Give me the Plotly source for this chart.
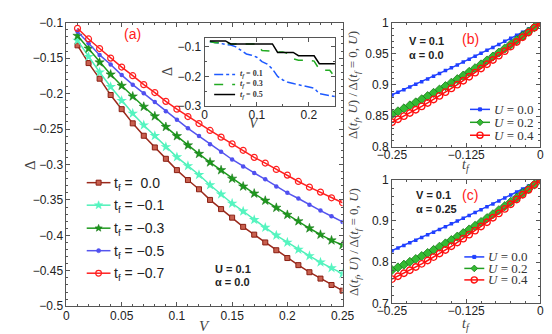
import math
import plotly.graph_objects as go

# ---------------- data ----------------
V = [0.01, 0.02, 0.03, 0.04, 0.05, 0.06, 0.07, 0.08, 0.09, 0.10, 0.11, 0.12, 0.13,
     0.14, 0.15, 0.16, 0.17, 0.18, 0.19, 0.20, 0.21, 0.22, 0.23, 0.24, 0.25]

delta_tf_0p0 = [-0.132, -0.157, -0.179, -0.202, -0.222, -0.242, -0.2595, -0.276, -0.292, -0.308,
                -0.322, -0.335, -0.350, -0.363, -0.375, -0.388, -0.399, -0.410, -0.421, -0.432,
                -0.442, -0.452, -0.461, -0.470, -0.478]
delta_tf_m0p1 = [-0.125, -0.148, -0.170, -0.1905, -0.210, -0.228, -0.2446, -0.2595, -0.2753, -0.2896,
                 -0.302, -0.3145, -0.329, -0.342, -0.355, -0.366, -0.378, -0.389, -0.400, -0.410,
                 -0.420, -0.429, -0.438, -0.446, -0.454]
delta_tf_m0p3 = [-0.1185, -0.1365, -0.156, -0.173, -0.189, -0.204, -0.2185, -0.232, -0.247, -0.260,
                 -0.273, -0.285, -0.297, -0.308, -0.320, -0.331, -0.341, -0.351, -0.361, -0.371,
                 -0.380, -0.390, -0.399, -0.407, -0.4135]
delta_tf_m0p5 = [-0.1126, -0.129, -0.1455, -0.159, -0.174, -0.1874, -0.1996, -0.212, -0.225, -0.237,
                 -0.249, -0.260, -0.2716, -0.282, -0.293, -0.303, -0.312, -0.321, -0.331, -0.340,
                 -0.348, -0.357, -0.365, -0.373, -0.381]
delta_tf_m0p7 = [-0.108, -0.123, -0.1365, -0.150, -0.1626, -0.1748, -0.1874, -0.1986, -0.211, -0.222,
                 -0.2324, -0.2423, -0.252, -0.2615, -0.271, -0.280, -0.290, -0.298, -0.307, -0.315,
                 -0.324, -0.332, -0.339, -0.347, -0.354]

# inset (positive t_f)
inset_tf_0p1 = [-0.083, -0.085, -0.088, -0.092, -0.094, -0.100, -0.112, -0.124, -0.128, -0.135,
                -0.150, -0.158, -0.175, -0.200, -0.212, -0.220, -0.224, -0.228, -0.232, -0.236,
                -0.240, -0.258, -0.262, -0.265, -0.268]
inset_tf_0p3 = [-0.082, -0.086, -0.086, -0.086, -0.090, -0.090, -0.090, -0.090, -0.090, -0.090,
                -0.112, -0.114, -0.114, -0.117, -0.117, -0.123, -0.140, -0.145, -0.145, -0.145,
                -0.148, -0.176, -0.179, -0.179, -0.203]
inset_tf_0p5 = [-0.080, -0.080, -0.080, -0.080, -0.090, -0.090, -0.090, -0.090, -0.090, -0.090,
                -0.090, -0.090, -0.090, -0.119, -0.119, -0.119, -0.119, -0.130, -0.130, -0.130,
                -0.130, -0.157, -0.157, -0.157, -0.157]

tf = [-0.25, -0.24, -0.23, -0.22, -0.21, -0.20, -0.19, -0.18, -0.17, -0.16, -0.15, -0.14, -0.13,
      -0.12, -0.11, -0.10, -0.09, -0.08, -0.07, -0.06, -0.05, -0.04, -0.03, -0.02, -0.01, 0.0]

ratio_b_U0p0 = [0.884, 0.8882, 0.8924, 0.8967, 0.9010, 0.9053, 0.9097, 0.9141, 0.9185, 0.9230,
                0.9275, 0.9321, 0.9367, 0.9413, 0.9460, 0.9507, 0.9555, 0.9603, 0.9651, 0.9700,
                0.9749, 0.9798, 0.9848, 0.9898, 0.9949, 1.0]
ratio_b_U0p2 = [0.853, 0.8576, 0.8623, 0.8671, 0.8720, 0.8770, 0.8821, 0.8873, 0.8926, 0.8981,
                0.9036, 0.9093, 0.9151, 0.9210, 0.9269, 0.9330, 0.9393, 0.9456, 0.9520, 0.9585,
                0.9652, 0.9719, 0.9788, 0.9857, 0.9928, 1.0]
ratio_b_U0p4 = [0.840, 0.8449, 0.8499, 0.8550, 0.8602, 0.8656, 0.8711, 0.8767, 0.8825, 0.8884,
                0.8944, 0.9005, 0.9068, 0.9132, 0.9197, 0.9264, 0.9332, 0.9401, 0.9471, 0.9543,
                0.9616, 0.9690, 0.9766, 0.9843, 0.9921, 1.0]

ratio_c_U0p0 = [0.828, 0.8343, 0.8406, 0.8470, 0.8534, 0.8598, 0.8664, 0.8729, 0.8796, 0.8862,
                0.8930, 0.8997, 0.9066, 0.9135, 0.9204, 0.9274, 0.9344, 0.9415, 0.9486, 0.9558,
                0.9630, 0.9703, 0.9777, 0.9851, 0.9925, 1.0]
ratio_c_U0p2 = [0.781, 0.7874, 0.7940, 0.8007, 0.8077, 0.8149, 0.8223, 0.8298, 0.8376, 0.8456,
                0.8537, 0.8621, 0.8706, 0.8794, 0.8884, 0.8975, 0.9069, 0.9164, 0.9262, 0.9361,
                0.9463, 0.9566, 0.9672, 0.9779, 0.9889, 1.0]
ratio_c_U0p4 = [0.759, 0.7660, 0.7731, 0.7805, 0.7882, 0.7960, 0.8041, 0.8124, 0.8209, 0.8296,
                0.8386, 0.8478, 0.8572, 0.8669, 0.8767, 0.8868, 0.8971, 0.9077, 0.9184, 0.9294,
                0.9406, 0.9520, 0.9637, 0.9756, 0.9877, 1.0]

a_xticks = [0, 0.05, 0.1, 0.15, 0.2, 0.25]
a_xticktext = ["0", "0.05", "0.1", "0.15", "0.2", "0.25"]
a_yticks = [-0.5, -0.45, -0.4, -0.35, -0.3, -0.25, -0.2, -0.15, -0.1]
a_yticktext = ["\u22120.5", "\u22120.45", "\u22120.4", "\u22120.35", "\u22120.3", "\u22120.25",
               "\u22120.2", "\u22120.15", "\u22120.1"]
in_xticks = [0, 0.1, 0.2]
in_xticktext = ["0", "0.1", "0.2"]
in_yticks = [-0.3, -0.2, -0.1]
in_yticktext = ["\u22120.3", "\u22120.2", "\u22120.1"]
bc_xticks = [-0.25, -0.125, 0]
bc_xticktext = ["\u22120.25", "\u22120.125", "0"]
b_yticks = [0.8, 0.85, 0.9, 0.95, 1.0]
b_yticktext = ["0.8", "0.85", "0.9", "0.95", "1"]
c_yticks = [0.7, 0.8, 0.9, 1.0]
c_yticktext = ["0.7", "0.8", "0.9", "1"]

a_names = ["t<sub>f</sub> =\u00a0\u00a00.0", "t<sub>f</sub> = \u22120.1", "t<sub>f</sub> = \u22120.3",
           "t<sub>f</sub> = \u22120.5", "t<sub>f</sub> = \u22120.7"]
inset_names = ["<b><i>t<sub>f</sub></i> = 0.1</b>", "<b><i>t<sub>f</sub></i> = 0.3</b>",
               "<b><i>t<sub>f</sub></i> = 0.5</b>"]
U_names = ["<i>U</i> = 0.0", "<i>U</i> = 0.2", "<i>U</i> = 0.4"]

# ---------------- figure ----------------
W, H = 552, 334
def px_x(p):
    return p / W
def px_y(p):
    return 1 - p / H

fig = go.Figure()

SANS = "Liberation Sans, Arial, sans-serif"
SERIF = "Liberation Serif, Times New Roman, serif"

a_styles = [
    ("#9B2A1C", dict(symbol="square", size=5, color="#C8604F", line=dict(color="#8A1E12", width=1))),
    ("#4EF0B8", dict(symbol="star", size=8, color="#55F5C0", line=dict(width=0))),
    ("#1E9A1E", dict(symbol="star", size=7, color="#1E9A1E", line=dict(color="#137013", width=0.5))),
    ("#5555EE", dict(symbol="circle", size=4.5, color="#5050F0", line=dict(width=0))),
    ("#FF2020", dict(symbol="circle-open", size=6, color="#FF2020", line=dict(width=1.2))),
]
for name, ys, (col, mk) in zip(a_names,
        [delta_tf_0p0, delta_tf_m0p1, delta_tf_m0p3, delta_tf_m0p5, delta_tf_m0p7], a_styles):
    fig.add_trace(go.Scatter(x=V, y=ys, mode="lines+markers", name=name,
                             line=dict(color=col, width=1.5), marker=mk,
                             xaxis="x", yaxis="y"))

inset_styles = [("#1E5AFF", "dashdot"), ("#22AA22", "dash"), ("#000000", "solid")]
for name, ys, (col, dash) in zip(inset_names, [inset_tf_0p1, inset_tf_0p3, inset_tf_0p5], inset_styles):
    fig.add_trace(go.Scatter(x=V, y=ys, mode="lines", name=name,
                             line=dict(color=col, width=1.5, dash=dash),
                             xaxis="x4", yaxis="y4"))

bc_styles = [
    ("#2040FF", dict(symbol="square", size=3.5, color="#2040FF")),
    ("#22A022", dict(symbol="diamond", size=7, color="#33BB33", line=dict(color="#1A7A1A", width=0.8))),
    ("#FF1010", dict(symbol="circle-open", size=6.5, color="#FF1010", line=dict(width=1.4))),
]
for name, (col, mk), ys in zip(U_names, bc_styles, [ratio_b_U0p0, ratio_b_U0p2, ratio_b_U0p4]):
    fig.add_trace(go.Scatter(x=tf, y=ys, mode="lines+markers", name=name,
                             line=dict(color=col, width=1.5), marker=mk,
                             xaxis="x2", yaxis="y2"))
for name, (col, mk), ys in zip(U_names, bc_styles, [ratio_c_U0p0, ratio_c_U0p2, ratio_c_U0p4]):
    fig.add_trace(go.Scatter(x=tf, y=ys, mode="lines+markers", name=name,
                             line=dict(color=col, width=1.5), marker=mk,
                             xaxis="x3", yaxis="y3"))

AXC = "#555555"
def axis(domain, rng, tickvals, ticktext, minor_dtick, anchor, standoff=0):
    return dict(domain=domain, range=rng, anchor=anchor, showgrid=False, zeroline=False,
                showline=True, linecolor=AXC, linewidth=1, mirror="ticks",
                ticks="inside", ticklen=4, tickcolor=AXC, tickwidth=1,
                tickvals=tickvals, ticktext=ticktext, ticklabelstandoff=standoff,
                minor=dict(ticks="inside", ticklen=2, tickcolor=AXC, dtick=minor_dtick, showgrid=False),
                tickfont=dict(family=SANS, size=12, color="#222222"))

fig.update_layout(
    width=W, height=H, margin=dict(l=0, r=0, t=0, b=0),
    paper_bgcolor="white", plot_bgcolor="white", showlegend=False,
    xaxis=axis([px_x(45.7), px_x(336)], [0, 0.25], a_xticks, a_xticktext, 0.01, "y", -2),
    yaxis=axis([px_y(304), px_y(8)], [-0.5, -0.1], a_yticks, a_yticktext, 0.01, "x"),
    xaxis2=axis([px_x(388), px_x(544)], [-0.25, 0], bc_xticks, bc_xticktext, 0.025, "y2", -4),
    yaxis2=axis([px_y(138), px_y(8)], [0.8, 1.0], b_yticks, b_yticktext, 0.01, "x2"),
    xaxis3=axis([px_x(388), px_x(544)], [-0.25, 0], bc_xticks, bc_xticktext, 0.025, "y3", -4),
    yaxis3=axis([px_y(301), px_y(172)], [0.7, 1.0], c_yticks, c_yticktext, 0.02, "x3"),
    xaxis4=axis([px_x(191), px_x(328)], [0, 0.25], in_xticks, in_xticktext, 0.05, "y4", -2),
    yaxis4=axis([px_y(95), px_y(24)], [-0.3, -0.07], in_yticks, in_yticktext, 0.05, "x4"),
)

def ann(text, x, y, size, color="#222222", family=SANS, angle=0, xanchor="center"):
    fig.add_annotation(text=text, x=px_x(x), y=px_y(y), xref="paper", yref="paper",
                       showarrow=False, xanchor=xanchor, yanchor="middle", textangle=angle,
                       font=dict(size=size, color=color, family=family))

# ---- compact legend keys ----
def key_line(x0, x1, y, color, dash="solid"):
    fig.add_shape(type="line", xref="paper", yref="paper", x0=px_x(x0), x1=px_x(x1),
                  y0=px_y(y), y1=px_y(y), line=dict(color=color, width=1.5, dash=dash))

def poly_path(pts):
    return "M " + " L ".join("%f,%f" % (px_x(a), px_y(b)) for a, b in pts) + " Z"

def key_marker(kind, xc, y, color, fill, r, lw=1.2):
    if kind == "circle":
        fig.add_shape(type="circle", xref="paper", yref="paper", x0=px_x(xc - r), x1=px_x(xc + r),
                      y0=px_y(y + r), y1=px_y(y - r), line=dict(color=color, width=lw),
                      fillcolor=fill)
    elif kind == "square":
        fig.add_shape(type="rect", xref="paper", yref="paper", x0=px_x(xc - r), x1=px_x(xc + r),
                      y0=px_y(y + r), y1=px_y(y - r), line=dict(color=color, width=lw),
                      fillcolor=fill)
    elif kind == "diamond":
        pts = [(xc, y - r), (xc + r, y), (xc, y + r), (xc - r, y)]
        fig.add_shape(type="path", xref="paper", yref="paper", path=poly_path(pts),
                      line=dict(color=color, width=lw), fillcolor=fill)
    else:  # star
        pts = []
        for k in range(10):
            rr = r if k % 2 == 0 else r * 0.42
            ang = -math.pi / 2 + k * math.pi / 5
            pts.append((xc + rr * math.cos(ang), y + rr * math.sin(ang)))
        fig.add_shape(type="path", xref="paper", yref="paper", path=poly_path(pts),
                      line=dict(color=color, width=lw), fillcolor=fill)

a_key = [("square", "#8A1E12", "#C8604F", 2.6, 1), ("star", "#55F5C0", "#55F5C0", 4.6, 0.5),
         ("star", "#137013", "#1E9A1E", 4.0, 0.5), ("circle", "#5050F0", "#5050F0", 2.2, 0.5),
         ("circle", "#FF2020", "rgba(0,0,0,0)", 3.0, 1.2)]
a_key_y = [175, 198.5, 222.5, 246, 269.5]
for name, (col, mk), (kind, kc, kf, r, lw), y in zip(a_names, a_styles, a_key, a_key_y):
    key_line(67, 92, y, col)
    key_marker(kind, 79.5, y, kc, kf, r, lw)
    ann(name, 94, y + 1, 14, color="#222222", family=SANS, xanchor="left")

inset_key_y = [62, 72.5, 83]
for name, (col, dash), y in zip(inset_names, inset_styles, inset_key_y):
    key_line(201, 223, y, col, dash)
    ann(name, 226, y, 8, color="#333333", family=SERIF, xanchor="left")

bc_key = [("square", "#2040FF", "#2040FF", 1.6, 1), ("diamond", "#1A7A1A", "#33BB33", 3.5, 0.8),
          ("circle", "#FF1010", "rgba(0,0,0,0)", 3.2, 1.4)]
b_key_y = [98.5, 112, 125.5]
for name, (col, mk), (kind, kc, kf, r, lw), y in zip(U_names, bc_styles, bc_key, b_key_y):
    key_line(470, 491, y, col)
    key_marker(kind, 480.5, y, kc, kf, r, lw)
    ann(name, 493, y, 13, color="#333333", family=SERIF, xanchor="left")
c_key_y = [252.5, 264.5, 276.5]
for name, (col, mk), (kind, kc, kf, r, lw), y in zip(U_names, bc_styles, bc_key, c_key_y):
    key_line(464, 485, y, col)
    key_marker(kind, 474.5, y, kc, kf, r, lw)
    ann(name, 487, y, 13, color="#333333", family=SERIF, xanchor="left")

ann("(a)", 115, 20, 14, color="#FF2020")
ann("(b)", 470, 25, 14, color="#FF2020")
ann("(c)", 470, 188, 14, color="#FF2020")
ann("<b>U = 0.1</b>", 200, 265, 11, xanchor="left")
ann("<b>\u03b1 = 0.0</b>", 200, 279, 11, xanchor="left")
ann("<b>V = 0.1</b>", 404, 27, 11, xanchor="left")
ann("<b>\u03b1 = 0.0</b>", 404, 42, 11, xanchor="left")
ann("<b>V = 0.1</b>", 411, 188, 11, xanchor="left")
ann("<b>\u03b1 = 0.25</b>", 411, 203, 11, xanchor="left")

# axis titles
ann("<i>V</i>", 191, 325, 15, color="#444444", family=SERIF)
ann("\u0394", 8, 157, 15, color="#444444", family=SERIF, angle=-90)
ann("<i>V</i>", 243, 113, 14, color="#444444", family=SERIF)
ann("\u0394", 152, 59, 14, color="#444444", family=SERIF, angle=-90)
ann("<i>t<sub>f</sub></i>", 466, 157, 14, color="#444444", family=SERIF)
ann("<i>t<sub>f</sub></i>", 466, 323, 14, color="#444444", family=SERIF)
ytitle = "\u0394(<i>t<sub>f</sub></i>, <i>U</i>) / \u0394(<i>t<sub>f</sub></i> = 0, <i>U</i>)"
ann(ytitle, 348, 73, 13, color="#444444", family=SERIF, angle=-90)
ann(ytitle, 348, 237, 13, color="#444444", family=SERIF, angle=-90)

fig.write_html("out.html")
